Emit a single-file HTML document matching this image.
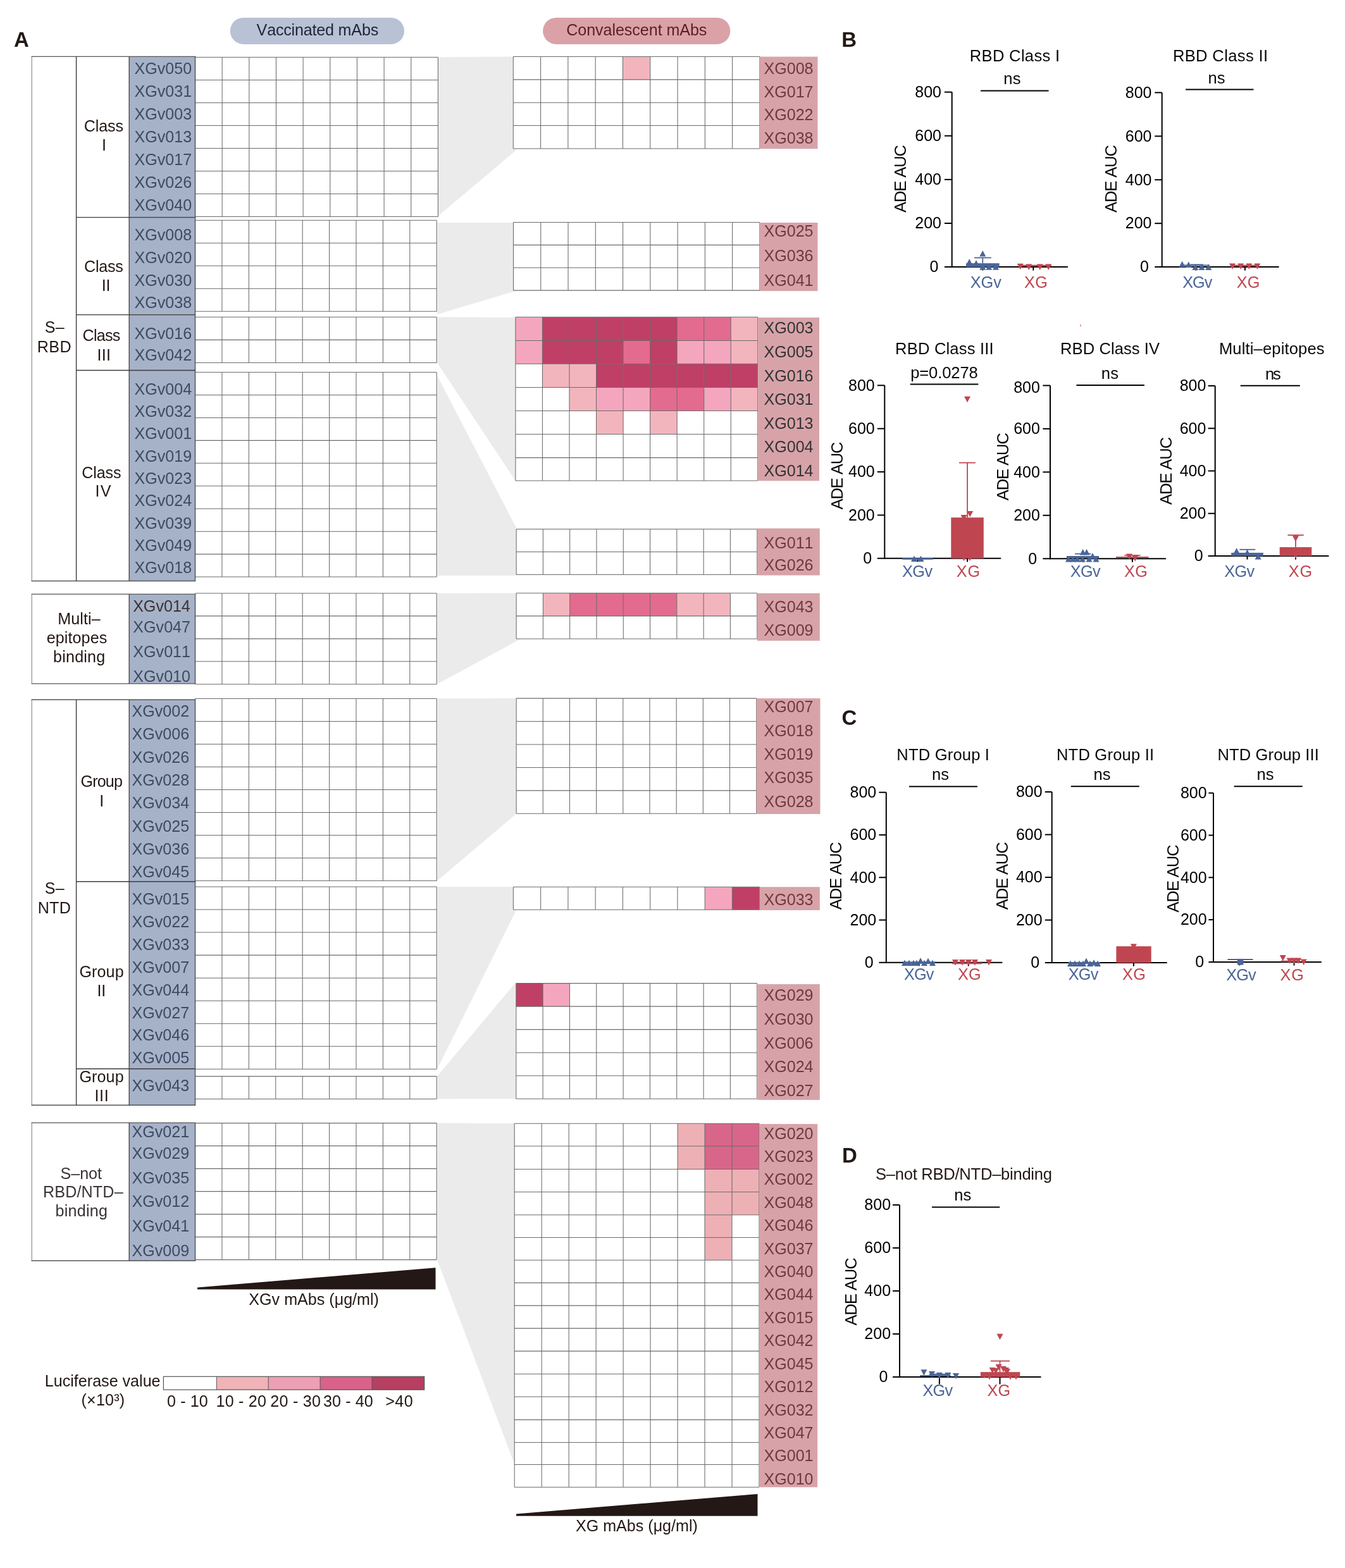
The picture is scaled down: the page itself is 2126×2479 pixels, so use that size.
<!DOCTYPE html>
<html><head><meta charset="utf-8"><title>ADE heatmap figure</title>
<style>
html,body{margin:0;padding:0;background:#fff;}
svg{display:block;}
svg text{font-family:'Liberation Sans', Arial, Helvetica, sans-serif;font-kerning:none;font-variant-ligatures:none;}
</style></head>
<body>
<svg width="2126" height="2479" viewBox="0 0 2126 2479">
<rect x="0" y="0" width="2126" height="2479" fill="#ffffff"/>
<text x="21.98" y="73.9" font-size="33" fill="#231815" font-weight="bold">A</text>
<text x="1330.19" y="73.8" font-size="33" fill="#231815" font-weight="bold">B</text>
<text x="1330.55" y="1146.3" font-size="33" fill="#231815" font-weight="bold">C</text>
<text x="1330.99" y="1838.4" font-size="33" fill="#231815" font-weight="bold">D</text>
<rect x="363.8" y="28" width="275.2" height="41.9" fill="#b8c2d4" rx="20.9"/>
<text x="405.59" y="55.9" font-size="25.1" fill="#1e2536" letter-spacing="-0.19">Vaccinated mAbs</text>
<rect x="858.1" y="28" width="296.2" height="41.9" fill="#daa2a7" rx="20.9"/>
<text x="895.23" y="55.5" font-size="25.1" fill="#5a1f27" letter-spacing="-0.06">Convalescent mAbs</text>
<polygon points="692.6,90.4 811.3,89.5 811.3,235.2 817,236.5 692.6,341.5" fill="#ebebeb"/>
<polygon points="691.3,352.1 811.5,352 811.5,459.1 815,460 691.3,497" fill="#ebebeb"/>
<polygon points="691.3,501.3 814.9,501.6 814.9,760.3 691.3,574" fill="#ebebeb"/>
<polygon points="691.3,594.5 816.2,834.7 816.2,908.5 816.2,909.9 691.3,909.9" fill="#ebebeb"/>
<polygon points="691.3,937.9 816.2,937.7 816.2,1010 822.2,1010.6 691.3,1081.4" fill="#ebebeb"/>
<polygon points="691.3,1104.2 816.2,1104.1 816.2,1286.5 691.3,1392.4" fill="#ebebeb"/>
<polygon points="691.3,1402 811.4,1402 811.4,1438.6 815.7,1439.8 691.3,1689.5" fill="#ebebeb"/>
<polygon points="691.3,1701.2 815.4,1553 815.4,1737.2 691.3,1737.4" fill="#ebebeb"/>
<polygon points="691.3,1775.6 813.2,1776.2 813.2,2314.6 691.3,1992.3" fill="#ebebeb"/>
<rect x="308.5" y="90.4" width="383.9" height="252" fill="#ffffff"/>
<path d="M308.5 90.4V342.4M351.16 90.4V342.4M393.81 90.4V342.4M436.47 90.4V342.4M479.12 90.4V342.4M521.78 90.4V342.4M564.43 90.4V342.4M607.09 90.4V342.4M649.74 90.4V342.4M692.4 90.4V342.4M308.5 90.4H692.4M308.5 126.4H692.4M308.5 162.4H692.4M308.5 198.4H692.4M308.5 234.4H692.4M308.5 270.4H692.4M308.5 306.4H692.4M308.5 342.4H692.4" stroke="#6b6b6b" stroke-width="1.05" fill="none"/>
<rect x="308.5" y="348.2" width="381.7" height="144" fill="#ffffff"/>
<path d="M308.5 348.2V492.2M350.91 348.2V492.2M393.32 348.2V492.2M435.73 348.2V492.2M478.14 348.2V492.2M520.56 348.2V492.2M562.97 348.2V492.2M605.38 348.2V492.2M647.79 348.2V492.2M690.2 348.2V492.2M308.5 348.2H690.2M308.5 384.2H690.2M308.5 420.2H690.2M308.5 456.2H690.2M308.5 492.2H690.2" stroke="#6b6b6b" stroke-width="1.05" fill="none"/>
<rect x="308.5" y="501.3" width="381.7" height="72.1" fill="#ffffff"/>
<path d="M308.5 501.3V573.4M350.91 501.3V573.4M393.32 501.3V573.4M435.73 501.3V573.4M478.14 501.3V573.4M520.56 501.3V573.4M562.97 501.3V573.4M605.38 501.3V573.4M647.79 501.3V573.4M690.2 501.3V573.4M308.5 501.3H690.2M308.5 537.35H690.2M308.5 573.4H690.2" stroke="#6b6b6b" stroke-width="1.05" fill="none"/>
<rect x="308.5" y="588.5" width="381.7" height="323.55" fill="#ffffff"/>
<path d="M308.5 588.5V912.05M350.91 588.5V912.05M393.32 588.5V912.05M435.73 588.5V912.05M478.14 588.5V912.05M520.56 588.5V912.05M562.97 588.5V912.05M605.38 588.5V912.05M647.79 588.5V912.05M690.2 588.5V912.05M308.5 588.5H690.2M308.5 624.45H690.2M308.5 660.4H690.2M308.5 696.35H690.2M308.5 732.3H690.2M308.5 768.25H690.2M308.5 804.2H690.2M308.5 840.15H690.2M308.5 876.1H690.2M308.5 912.05H690.2" stroke="#6b6b6b" stroke-width="1.05" fill="none"/>
<rect x="308.5" y="937.9" width="381.7" height="143.92" fill="#ffffff"/>
<path d="M308.5 937.9V1081.82M350.91 937.9V1081.82M393.32 937.9V1081.82M435.73 937.9V1081.82M478.14 937.9V1081.82M520.56 937.9V1081.82M562.97 937.9V1081.82M605.38 937.9V1081.82M647.79 937.9V1081.82M690.2 937.9V1081.82M308.5 937.9H690.2M308.5 973.88H690.2M308.5 1009.86H690.2M308.5 1045.84H690.2M308.5 1081.82H690.2" stroke="#6b6b6b" stroke-width="1.05" fill="none"/>
<rect x="308.5" y="1104.4" width="381.7" height="288" fill="#ffffff"/>
<path d="M308.5 1104.4V1392.4M350.91 1104.4V1392.4M393.32 1104.4V1392.4M435.73 1104.4V1392.4M478.14 1104.4V1392.4M520.56 1104.4V1392.4M562.97 1104.4V1392.4M605.38 1104.4V1392.4M647.79 1104.4V1392.4M690.2 1104.4V1392.4M308.5 1104.4H690.2M308.5 1140.4H690.2M308.5 1176.4H690.2M308.5 1212.4H690.2M308.5 1248.4H690.2M308.5 1284.4H690.2M308.5 1320.4H690.2M308.5 1356.4H690.2M308.5 1392.4H690.2" stroke="#6b6b6b" stroke-width="1.05" fill="none"/>
<rect x="308.5" y="1402" width="381.7" height="288.32" fill="#ffffff"/>
<path d="M308.5 1402V1690.32M350.91 1402V1690.32M393.32 1402V1690.32M435.73 1402V1690.32M478.14 1402V1690.32M520.56 1402V1690.32M562.97 1402V1690.32M605.38 1402V1690.32M647.79 1402V1690.32M690.2 1402V1690.32M308.5 1402H690.2M308.5 1438.04H690.2M308.5 1474.08H690.2M308.5 1510.12H690.2M308.5 1546.16H690.2M308.5 1582.2H690.2M308.5 1618.24H690.2M308.5 1654.28H690.2M308.5 1690.32H690.2" stroke="#6b6b6b" stroke-width="1.05" fill="none"/>
<rect x="308.5" y="1701.6" width="381.7" height="35.8" fill="#ffffff"/>
<path d="M308.5 1701.6V1737.4M350.91 1701.6V1737.4M393.32 1701.6V1737.4M435.73 1701.6V1737.4M478.14 1701.6V1737.4M520.56 1701.6V1737.4M562.97 1701.6V1737.4M605.38 1701.6V1737.4M647.79 1701.6V1737.4M690.2 1701.6V1737.4M308.5 1701.6H690.2M308.5 1737.4H690.2" stroke="#6b6b6b" stroke-width="1.05" fill="none"/>
<rect x="308.5" y="1775.6" width="381.7" height="216" fill="#ffffff"/>
<path d="M308.5 1775.6V1991.6M350.91 1775.6V1991.6M393.32 1775.6V1991.6M435.73 1775.6V1991.6M478.14 1775.6V1991.6M520.56 1775.6V1991.6M562.97 1775.6V1991.6M605.38 1775.6V1991.6M647.79 1775.6V1991.6M690.2 1775.6V1991.6M308.5 1775.6H690.2M308.5 1811.6H690.2M308.5 1847.6H690.2M308.5 1883.6H690.2M308.5 1919.6H690.2M308.5 1955.6H690.2M308.5 1991.6H690.2" stroke="#6b6b6b" stroke-width="1.05" fill="none"/>
<rect x="811.3" y="89.5" width="389.6" height="145.4" fill="#ffffff"/>
<rect x="984.46" y="89.5" width="43.29" height="36.35" fill="#f3b5bd"/>
<path d="M811.3 89.5V234.9M854.59 89.5V234.9M897.88 89.5V234.9M941.17 89.5V234.9M984.46 89.5V234.9M1027.74 89.5V234.9M1071.03 89.5V234.9M1114.32 89.5V234.9M1157.61 89.5V234.9M1200.9 89.5V234.9M811.3 89.5H1200.9M811.3 125.85H1200.9M811.3 162.2H1200.9M811.3 198.55H1200.9M811.3 234.9H1200.9" stroke="#6b6b6b" stroke-width="1.05" fill="none"/>
<rect x="811.5" y="351.5" width="389.4" height="107.61" fill="#ffffff"/>
<path d="M811.5 351.5V459.11M854.77 351.5V459.11M898.03 351.5V459.11M941.3 351.5V459.11M984.57 351.5V459.11M1027.83 351.5V459.11M1071.1 351.5V459.11M1114.37 351.5V459.11M1157.63 351.5V459.11M1200.9 351.5V459.11M811.5 351.5H1200.9M811.5 387.37H1200.9M811.5 423.24H1200.9M811.5 459.11H1200.9" stroke="#6b6b6b" stroke-width="1.05" fill="none"/>
<rect x="814.9" y="501.3" width="382.9" height="258.7" fill="#ffffff"/>
<rect x="814.9" y="501.3" width="42.54" height="37.1" fill="#f5a6bf"/>
<rect x="857.44" y="501.3" width="42.54" height="37.1" fill="#c03f66"/>
<rect x="899.99" y="501.3" width="42.54" height="37.1" fill="#c03f66"/>
<rect x="942.53" y="501.3" width="42.54" height="37.1" fill="#c03f66"/>
<rect x="985.08" y="501.3" width="42.54" height="37.1" fill="#c03f66"/>
<rect x="1027.62" y="501.3" width="42.54" height="37.1" fill="#c03f66"/>
<rect x="1070.17" y="501.3" width="42.54" height="37.1" fill="#e36b8f"/>
<rect x="1112.71" y="501.3" width="42.54" height="37.1" fill="#e36b8f"/>
<rect x="1155.26" y="501.3" width="42.54" height="37.1" fill="#f3b5bd"/>
<rect x="814.9" y="538.4" width="42.54" height="36.8" fill="#f5a6bf"/>
<rect x="857.44" y="538.4" width="42.54" height="36.8" fill="#c03f66"/>
<rect x="899.99" y="538.4" width="42.54" height="36.8" fill="#c03f66"/>
<rect x="942.53" y="538.4" width="42.54" height="36.8" fill="#c03f66"/>
<rect x="985.08" y="538.4" width="42.54" height="36.8" fill="#e36b8f"/>
<rect x="1027.62" y="538.4" width="42.54" height="36.8" fill="#c03f66"/>
<rect x="1070.17" y="538.4" width="42.54" height="36.8" fill="#f5a6bf"/>
<rect x="1112.71" y="538.4" width="42.54" height="36.8" fill="#f5a6bf"/>
<rect x="1155.26" y="538.4" width="42.54" height="36.8" fill="#f3b5bd"/>
<rect x="857.44" y="575.2" width="42.54" height="37.3" fill="#f3b5bd"/>
<rect x="899.99" y="575.2" width="42.54" height="37.3" fill="#f3b5bd"/>
<rect x="942.53" y="575.2" width="42.54" height="37.3" fill="#c03f66"/>
<rect x="985.08" y="575.2" width="42.54" height="37.3" fill="#c03f66"/>
<rect x="1027.62" y="575.2" width="42.54" height="37.3" fill="#c03f66"/>
<rect x="1070.17" y="575.2" width="42.54" height="37.3" fill="#c03f66"/>
<rect x="1112.71" y="575.2" width="42.54" height="37.3" fill="#c03f66"/>
<rect x="1155.26" y="575.2" width="42.54" height="37.3" fill="#c03f66"/>
<rect x="899.99" y="612.5" width="42.54" height="36.9" fill="#f3b5bd"/>
<rect x="942.53" y="612.5" width="42.54" height="36.9" fill="#f5a6bf"/>
<rect x="985.08" y="612.5" width="42.54" height="36.9" fill="#f5a6bf"/>
<rect x="1027.62" y="612.5" width="42.54" height="36.9" fill="#e36b8f"/>
<rect x="1070.17" y="612.5" width="42.54" height="36.9" fill="#e36b8f"/>
<rect x="1112.71" y="612.5" width="42.54" height="36.9" fill="#f5a6bf"/>
<rect x="1155.26" y="612.5" width="42.54" height="36.9" fill="#f3b5bd"/>
<rect x="942.53" y="649.4" width="42.54" height="37.1" fill="#f3b5bd"/>
<rect x="1027.62" y="649.4" width="42.54" height="37.1" fill="#f3b5bd"/>
<path d="M814.9 501.3V760M857.44 501.3V760M899.99 501.3V760M942.53 501.3V760M985.08 501.3V760M1027.62 501.3V760M1070.17 501.3V760M1112.71 501.3V760M1155.26 501.3V760M1197.8 501.3V760M814.9 501.3H1197.8M814.9 538.4H1197.8M814.9 575.2H1197.8M814.9 612.5H1197.8M814.9 649.4H1197.8M814.9 686.5H1197.8M814.9 723.6H1197.8M814.9 760H1197.8" stroke="#6b6b6b" stroke-width="1.05" fill="none"/>
<rect x="816.1" y="836.5" width="380.6" height="72" fill="#ffffff"/>
<path d="M816.1 836.5V908.5M858.39 836.5V908.5M900.68 836.5V908.5M942.97 836.5V908.5M985.26 836.5V908.5M1027.54 836.5V908.5M1069.83 836.5V908.5M1112.12 836.5V908.5M1154.41 836.5V908.5M1196.7 836.5V908.5M816.1 836.5H1196.7M816.1 872.5H1196.7M816.1 908.5H1196.7" stroke="#6b6b6b" stroke-width="1.05" fill="none"/>
<rect x="816.1" y="937.7" width="380.6" height="72.3" fill="#ffffff"/>
<rect x="858.39" y="937.7" width="42.29" height="36.15" fill="#f3b5bd"/>
<rect x="900.68" y="937.7" width="42.29" height="36.15" fill="#e36b8f"/>
<rect x="942.97" y="937.7" width="42.29" height="36.15" fill="#e36b8f"/>
<rect x="985.26" y="937.7" width="42.29" height="36.15" fill="#e36b8f"/>
<rect x="1027.54" y="937.7" width="42.29" height="36.15" fill="#e36b8f"/>
<rect x="1069.83" y="937.7" width="42.29" height="36.15" fill="#f3b5bd"/>
<rect x="1112.12" y="937.7" width="42.29" height="36.15" fill="#f3b5bd"/>
<path d="M816.1 937.7V1010M858.39 937.7V1010M900.68 937.7V1010M942.97 937.7V1010M985.26 937.7V1010M1027.54 937.7V1010M1069.83 937.7V1010M1112.12 937.7V1010M1154.41 937.7V1010M1196.7 937.7V1010M816.1 937.7H1196.7M816.1 973.85H1196.7M816.1 1010H1196.7" stroke="#6b6b6b" stroke-width="1.05" fill="none"/>
<rect x="816.1" y="1104.1" width="379.6" height="182.2" fill="#ffffff"/>
<path d="M816.1 1104.1V1286.3M858.28 1104.1V1286.3M900.46 1104.1V1286.3M942.63 1104.1V1286.3M984.81 1104.1V1286.3M1026.99 1104.1V1286.3M1069.17 1104.1V1286.3M1111.34 1104.1V1286.3M1153.52 1104.1V1286.3M1195.7 1104.1V1286.3M816.1 1104.1H1195.7M816.1 1140.54H1195.7M816.1 1176.98H1195.7M816.1 1213.42H1195.7M816.1 1249.86H1195.7M816.1 1286.3H1195.7" stroke="#6b6b6b" stroke-width="1.05" fill="none"/>
<rect x="811.4" y="1402.3" width="389.3" height="36" fill="#ffffff"/>
<rect x="1114.19" y="1402.3" width="43.26" height="36" fill="#f5a6bf"/>
<rect x="1157.44" y="1402.3" width="43.26" height="36" fill="#c03f66"/>
<path d="M811.4 1402.3V1438.3M854.66 1402.3V1438.3M897.91 1402.3V1438.3M941.17 1402.3V1438.3M984.42 1402.3V1438.3M1027.68 1402.3V1438.3M1070.93 1402.3V1438.3M1114.19 1402.3V1438.3M1157.44 1402.3V1438.3M1200.7 1402.3V1438.3M811.4 1402.3H1200.7M811.4 1438.3H1200.7" stroke="#6b6b6b" stroke-width="1.05" fill="none"/>
<rect x="815.8" y="1554.6" width="380.9" height="182.6" fill="#ffffff"/>
<rect x="815.8" y="1554.6" width="42.32" height="36.52" fill="#c03f66"/>
<rect x="858.12" y="1554.6" width="42.32" height="36.52" fill="#f5a6bf"/>
<path d="M815.8 1554.6V1737.2M858.12 1554.6V1737.2M900.44 1554.6V1737.2M942.77 1554.6V1737.2M985.09 1554.6V1737.2M1027.41 1554.6V1737.2M1069.73 1554.6V1737.2M1112.06 1554.6V1737.2M1154.38 1554.6V1737.2M1196.7 1554.6V1737.2M815.8 1554.6H1196.7M815.8 1591.12H1196.7M815.8 1627.64H1196.7M815.8 1664.16H1196.7M815.8 1700.68H1196.7M815.8 1737.2H1196.7" stroke="#6b6b6b" stroke-width="1.05" fill="none"/>
<rect x="813.2" y="1776.3" width="386.8" height="575" fill="#ffffff"/>
<rect x="1071.07" y="1776.3" width="42.98" height="35.7" fill="#edb0b5"/>
<rect x="1114.04" y="1776.3" width="42.98" height="35.7" fill="#d8668a"/>
<rect x="1157.02" y="1776.3" width="42.98" height="35.7" fill="#d8668a"/>
<rect x="1071.07" y="1812" width="42.98" height="36.4" fill="#edb0b5"/>
<rect x="1114.04" y="1812" width="42.98" height="36.4" fill="#d8668a"/>
<rect x="1157.02" y="1812" width="42.98" height="36.4" fill="#d8668a"/>
<rect x="1114.04" y="1848.4" width="42.98" height="36.1" fill="#edb0b5"/>
<rect x="1157.02" y="1848.4" width="42.98" height="36.1" fill="#edb0b5"/>
<rect x="1114.04" y="1884.5" width="42.98" height="36.2" fill="#edb0b5"/>
<rect x="1157.02" y="1884.5" width="42.98" height="36.2" fill="#edb0b5"/>
<rect x="1114.04" y="1920.7" width="42.98" height="35.8" fill="#edb0b5"/>
<rect x="1114.04" y="1956.5" width="42.98" height="35.7" fill="#edb0b5"/>
<path d="M813.2 1776.3V2351.3M856.18 1776.3V2351.3M899.16 1776.3V2351.3M942.13 1776.3V2351.3M985.11 1776.3V2351.3M1028.09 1776.3V2351.3M1071.07 1776.3V2351.3M1114.04 1776.3V2351.3M1157.02 1776.3V2351.3M1200 1776.3V2351.3M813.2 1776.3H1200M813.2 1812H1200M813.2 1848.4H1200M813.2 1884.5H1200M813.2 1920.7H1200M813.2 1956.5H1200M813.2 1992.2H1200M813.2 2028.1H1200M813.2 2064.1H1200M813.2 2100.1H1200M813.2 2136.1H1200M813.2 2172.2H1200M813.2 2208.3H1200M813.2 2244.6H1200M813.2 2280.5H1200M813.2 2315.5H1200M813.2 2351.3H1200" stroke="#6b6b6b" stroke-width="1.05" fill="none"/>
<rect x="1200.9" y="89.6" width="91.6" height="145.7" fill="#d7a3a8"/>
<text x="1207.44" y="117.3" font-size="25.1" fill="#6e3a3f">XG008</text>
<text x="1207.44" y="153.9" font-size="25.1" fill="#6e3a3f">XG017</text>
<text x="1207.44" y="190.3" font-size="25.1" fill="#6e3a3f">XG022</text>
<text x="1207.44" y="227.2" font-size="25.1" fill="#6e3a3f">XG038</text>
<rect x="1201.2" y="352" width="91.3" height="108.1" fill="#d7a3a8"/>
<text x="1207.44" y="374.4" font-size="25.1" fill="#6e3a3f">XG025</text>
<text x="1207.44" y="413" font-size="25.1" fill="#6e3a3f">XG036</text>
<text x="1207.44" y="452" font-size="25.1" fill="#6e3a3f">XG041</text>
<rect x="1198.3" y="502" width="96.7" height="258.2" fill="#d7a3a8"/>
<text x="1207.44" y="527.3" font-size="25.1" fill="#333333">XG003</text>
<text x="1207.44" y="565.2" font-size="25.1" fill="#333333">XG005</text>
<text x="1207.44" y="602.9" font-size="25.1" fill="#333333">XG016</text>
<text x="1207.44" y="640.1" font-size="25.1" fill="#333333">XG031</text>
<text x="1207.44" y="678.1" font-size="25.1" fill="#333333">XG013</text>
<text x="1207.44" y="715.3" font-size="25.1" fill="#333333">XG004</text>
<text x="1207.44" y="753" font-size="25.1" fill="#333333">XG014</text>
<rect x="1196.7" y="835.4" width="99.1" height="74.2" fill="#d7a3a8"/>
<text x="1207.44" y="866.9" font-size="25.1" fill="#6e3a3f">XG011</text>
<text x="1207.44" y="902" font-size="25.1" fill="#6e3a3f">XG026</text>
<rect x="1196.7" y="938" width="99.1" height="75" fill="#d7a3a8"/>
<text x="1207.44" y="968.2" font-size="25.1" fill="#6e3a3f">XG043</text>
<text x="1207.44" y="1004.5" font-size="25.1" fill="#6e3a3f">XG009</text>
<rect x="1195.7" y="1104.1" width="100.8" height="182.9" fill="#d7a3a8"/>
<text x="1207.44" y="1125.7" font-size="25.1" fill="#6e3a3f">XG007</text>
<text x="1207.44" y="1163.5" font-size="25.1" fill="#6e3a3f">XG018</text>
<text x="1207.44" y="1200.6" font-size="25.1" fill="#6e3a3f">XG019</text>
<text x="1207.44" y="1238.4" font-size="25.1" fill="#6e3a3f">XG035</text>
<text x="1207.44" y="1276.3" font-size="25.1" fill="#6e3a3f">XG028</text>
<rect x="1200.7" y="1402.3" width="95.1" height="36.7" fill="#d7a3a8"/>
<text x="1207.44" y="1431.1" font-size="25.1" fill="#6e3a3f">XG033</text>
<rect x="1197.5" y="1556" width="98.3" height="183" fill="#d7a3a8"/>
<text x="1207.44" y="1582.3" font-size="25.1" fill="#6e3a3f">XG029</text>
<text x="1207.44" y="1620.1" font-size="25.1" fill="#6e3a3f">XG030</text>
<text x="1207.44" y="1658" font-size="25.1" fill="#6e3a3f">XG006</text>
<text x="1207.44" y="1695" font-size="25.1" fill="#6e3a3f">XG024</text>
<text x="1207.44" y="1732.9" font-size="25.1" fill="#6e3a3f">XG027</text>
<rect x="1201" y="1777" width="91.2" height="574.3" fill="#d7a3a8"/>
<text x="1207.44" y="1800.5" font-size="25.1" fill="#6e3a3f">XG020</text>
<text x="1207.44" y="1836.92" font-size="25.1" fill="#6e3a3f">XG023</text>
<text x="1207.44" y="1873.34" font-size="25.1" fill="#6e3a3f">XG002</text>
<text x="1207.44" y="1909.76" font-size="25.1" fill="#6e3a3f">XG048</text>
<text x="1207.44" y="1946.18" font-size="25.1" fill="#6e3a3f">XG046</text>
<text x="1207.44" y="1982.6" font-size="25.1" fill="#6e3a3f">XG037</text>
<text x="1207.44" y="2019.02" font-size="25.1" fill="#6e3a3f">XG040</text>
<text x="1207.44" y="2055.44" font-size="25.1" fill="#6e3a3f">XG044</text>
<text x="1207.44" y="2091.86" font-size="25.1" fill="#6e3a3f">XG015</text>
<text x="1207.44" y="2128.28" font-size="25.1" fill="#6e3a3f">XG042</text>
<text x="1207.44" y="2164.7" font-size="25.1" fill="#6e3a3f">XG045</text>
<text x="1207.44" y="2201.12" font-size="25.1" fill="#6e3a3f">XG012</text>
<text x="1207.44" y="2237.54" font-size="25.1" fill="#6e3a3f">XG032</text>
<text x="1207.44" y="2273.96" font-size="25.1" fill="#6e3a3f">XG047</text>
<text x="1207.44" y="2310.38" font-size="25.1" fill="#6e3a3f">XG001</text>
<text x="1207.44" y="2346.8" font-size="25.1" fill="#6e3a3f">XG010</text>
<rect x="204.2" y="89.4" width="104.3" height="829.1" fill="#a6b2c8"/>
<line x1="50.3" y1="89.4" x2="50.3" y2="918.5" stroke="#9f9f9f" stroke-width="1.4"/>
<line x1="49.6" y1="89.4" x2="309.2" y2="89.4" stroke="#555555" stroke-width="1.4"/>
<line x1="49.6" y1="918.5" x2="309.2" y2="918.5" stroke="#555555" stroke-width="1.4"/>
<line x1="308.5" y1="89.4" x2="308.5" y2="918.5" stroke="#4a4a4a" stroke-width="1.3"/>
<line x1="120.6" y1="89.4" x2="120.6" y2="918.5" stroke="#3e3a39" stroke-width="1.4"/>
<line x1="204.2" y1="89.4" x2="204.2" y2="918.5" stroke="#3e3a39" stroke-width="1.3"/>
<line x1="120.6" y1="343.6" x2="308.5" y2="343.6" stroke="#3e3a39" stroke-width="1.4"/>
<line x1="120.6" y1="497.6" x2="308.5" y2="497.6" stroke="#3e3a39" stroke-width="1.4"/>
<line x1="120.6" y1="585.5" x2="308.5" y2="585.5" stroke="#3e3a39" stroke-width="1.4"/>
<rect x="204.2" y="939.4" width="104.3" height="141.5" fill="#a6b2c8"/>
<line x1="50.3" y1="939.4" x2="50.3" y2="1080.9" stroke="#9f9f9f" stroke-width="1.4"/>
<line x1="49.6" y1="939.4" x2="309.2" y2="939.4" stroke="#555555" stroke-width="1.4"/>
<line x1="49.6" y1="1080.9" x2="309.2" y2="1080.9" stroke="#555555" stroke-width="1.4"/>
<line x1="308.5" y1="939.4" x2="308.5" y2="1080.9" stroke="#4a4a4a" stroke-width="1.3"/>
<line x1="204.2" y1="939.4" x2="204.2" y2="1080.9" stroke="#3e3a39" stroke-width="1.3"/>
<rect x="204.2" y="1106.2" width="104.3" height="641" fill="#a6b2c8"/>
<line x1="50.3" y1="1106.2" x2="50.3" y2="1747.2" stroke="#9f9f9f" stroke-width="1.4"/>
<line x1="49.6" y1="1106.2" x2="309.2" y2="1106.2" stroke="#555555" stroke-width="1.4"/>
<line x1="49.6" y1="1747.2" x2="309.2" y2="1747.2" stroke="#555555" stroke-width="1.4"/>
<line x1="308.5" y1="1106.2" x2="308.5" y2="1747.2" stroke="#4a4a4a" stroke-width="1.3"/>
<line x1="120.6" y1="1106.2" x2="120.6" y2="1747.2" stroke="#3e3a39" stroke-width="1.4"/>
<line x1="204.2" y1="1106.2" x2="204.2" y2="1747.2" stroke="#3e3a39" stroke-width="1.3"/>
<line x1="120.6" y1="1393.7" x2="308.5" y2="1393.7" stroke="#3e3a39" stroke-width="1.4"/>
<line x1="120.6" y1="1689.8" x2="308.5" y2="1689.8" stroke="#3e3a39" stroke-width="1.4"/>
<rect x="204.2" y="1775.1" width="104.3" height="218.1" fill="#a6b2c8"/>
<line x1="50.3" y1="1775.1" x2="50.3" y2="1993.2" stroke="#9f9f9f" stroke-width="1.4"/>
<line x1="49.6" y1="1775.1" x2="309.2" y2="1775.1" stroke="#555555" stroke-width="1.4"/>
<line x1="49.6" y1="1993.2" x2="309.2" y2="1993.2" stroke="#555555" stroke-width="1.4"/>
<line x1="308.5" y1="1775.1" x2="308.5" y2="1993.2" stroke="#4a4a4a" stroke-width="1.3"/>
<line x1="204.2" y1="1775.1" x2="204.2" y2="1993.2" stroke="#3e3a39" stroke-width="1.3"/>
<text x="212.54" y="117.4" font-size="25.1" fill="#3e4b63">XGv050</text>
<text x="212.54" y="153.4" font-size="25.1" fill="#3e4b63">XGv031</text>
<text x="212.54" y="189.4" font-size="25.1" fill="#3e4b63">XGv003</text>
<text x="212.54" y="225.3" font-size="25.1" fill="#3e4b63">XGv013</text>
<text x="212.54" y="261.2" font-size="25.1" fill="#3e4b63">XGv017</text>
<text x="212.54" y="297.3" font-size="25.1" fill="#3e4b63">XGv026</text>
<text x="212.54" y="333.2" font-size="25.1" fill="#3e4b63">XGv040</text>
<text x="212.54" y="379.9" font-size="25.1" fill="#3e4b63">XGv008</text>
<text x="212.54" y="416" font-size="25.1" fill="#3e4b63">XGv020</text>
<text x="212.54" y="451.5" font-size="25.1" fill="#3e4b63">XGv030</text>
<text x="212.54" y="487.1" font-size="25.1" fill="#3e4b63">XGv038</text>
<text x="212.54" y="536" font-size="25.1" fill="#3e4b63">XGv016</text>
<text x="212.54" y="570.4" font-size="25.1" fill="#3e4b63">XGv042</text>
<text x="212.54" y="623.5" font-size="25.1" fill="#3e4b63">XGv004</text>
<text x="212.54" y="658.87" font-size="25.1" fill="#3e4b63">XGv032</text>
<text x="212.54" y="694.24" font-size="25.1" fill="#3e4b63">XGv001</text>
<text x="212.54" y="729.61" font-size="25.1" fill="#3e4b63">XGv019</text>
<text x="212.54" y="764.98" font-size="25.1" fill="#3e4b63">XGv023</text>
<text x="212.54" y="800.35" font-size="25.1" fill="#3e4b63">XGv024</text>
<text x="212.54" y="835.72" font-size="25.1" fill="#3e4b63">XGv039</text>
<text x="212.54" y="871.09" font-size="25.1" fill="#3e4b63">XGv049</text>
<text x="212.54" y="906.46" font-size="25.1" fill="#3e4b63">XGv018</text>
<text x="210.34" y="1000.4" font-size="25.1" fill="#3e4b63">XGv047</text>
<text x="210.34" y="1038.7" font-size="25.1" fill="#3e4b63">XGv011</text>
<text x="210.34" y="1077.5" font-size="25.1" fill="#3e4b63">XGv010</text>
<text x="208.44" y="1132.9" font-size="25.1" fill="#3e4b63">XGv002</text>
<text x="208.44" y="1169.27" font-size="25.1" fill="#3e4b63">XGv006</text>
<text x="208.44" y="1205.64" font-size="25.1" fill="#3e4b63">XGv026</text>
<text x="208.44" y="1242.01" font-size="25.1" fill="#3e4b63">XGv028</text>
<text x="208.44" y="1278.38" font-size="25.1" fill="#3e4b63">XGv034</text>
<text x="208.44" y="1314.75" font-size="25.1" fill="#3e4b63">XGv025</text>
<text x="208.44" y="1351.12" font-size="25.1" fill="#3e4b63">XGv036</text>
<text x="208.44" y="1387.49" font-size="25.1" fill="#3e4b63">XGv045</text>
<text x="208.44" y="1429.8" font-size="25.1" fill="#3e4b63">XGv015</text>
<text x="208.44" y="1465.74" font-size="25.1" fill="#3e4b63">XGv022</text>
<text x="208.44" y="1501.68" font-size="25.1" fill="#3e4b63">XGv033</text>
<text x="208.44" y="1537.62" font-size="25.1" fill="#3e4b63">XGv007</text>
<text x="208.44" y="1573.56" font-size="25.1" fill="#3e4b63">XGv044</text>
<text x="208.44" y="1609.5" font-size="25.1" fill="#3e4b63">XGv027</text>
<text x="208.44" y="1645.44" font-size="25.1" fill="#3e4b63">XGv046</text>
<text x="208.44" y="1681.38" font-size="25.1" fill="#3e4b63">XGv005</text>
<text x="208.44" y="1725.3" font-size="25.1" fill="#3e4b63">XGv043</text>
<text x="208.44" y="1797.9" font-size="25.1" fill="#3e4b63">XGv021</text>
<text x="208.44" y="1832.1" font-size="25.1" fill="#3e4b63">XGv029</text>
<text x="208.44" y="1870.5" font-size="25.1" fill="#3e4b63">XGv035</text>
<text x="208.44" y="1908.4" font-size="25.1" fill="#3e4b63">XGv012</text>
<text x="208.44" y="1947" font-size="25.1" fill="#3e4b63">XGv041</text>
<text x="208.44" y="1985.7" font-size="25.1" fill="#3e4b63">XGv009</text>
<text x="210.14" y="967.3" font-size="25.1" fill="#3b3333">XGv014</text>
<text x="70.76" y="526.4" font-size="25.1" fill="#231815" letter-spacing="0.35">S–</text>
<text x="58.84" y="556.8" font-size="25.1" fill="#231815" letter-spacing="0.38">RBD</text>
<text x="132.63" y="207.6" font-size="25.1" fill="#231815" letter-spacing="-0.07">Class</text>
<text x="160.91" y="237.5" font-size="25.1" fill="#231815">I</text>
<text x="133.03" y="430" font-size="25.1" fill="#231815" letter-spacing="-0.22">Class</text>
<text x="160.68" y="460" font-size="25.1" fill="#231815" letter-spacing="-0.11">II</text>
<text x="130.53" y="539.4" font-size="25.1" fill="#231815" letter-spacing="-0.72">Class</text>
<text x="153.48" y="569.5" font-size="25.1" fill="#231815" letter-spacing="0.31">III</text>
<text x="129.23" y="755.5" font-size="25.1" fill="#231815" letter-spacing="-0.1">Class</text>
<text x="150.48" y="785.2" font-size="25.1" fill="#231815" letter-spacing="1.21">IV</text>
<text x="91.24" y="987.2" font-size="25.1" fill="#231815" letter-spacing="0.12">Multi–</text>
<text x="73.63" y="1017.1" font-size="25.1" fill="#231815" letter-spacing="0.11">epitopes</text>
<text x="84.08" y="1047.1" font-size="25.1" fill="#231815" letter-spacing="0.2">binding</text>
<text x="70.76" y="1413.3" font-size="25.1" fill="#231815" letter-spacing="0.35">S–</text>
<text x="59.64" y="1443.7" font-size="25.1" fill="#231815" letter-spacing="0.34">NTD</text>
<text x="127.54" y="1244.4" font-size="25.1" fill="#231815" letter-spacing="-0.84">Group</text>
<text x="157.31" y="1274.7" font-size="25.1" fill="#231815">I</text>
<text x="125.44" y="1544.6" font-size="25.1" fill="#231815" letter-spacing="0.11">Group</text>
<text x="153.48" y="1575" font-size="25.1" fill="#231815" letter-spacing="-0.11">II</text>
<text x="125.44" y="1710.9" font-size="25.1" fill="#231815" letter-spacing="0.11">Group</text>
<text x="149.58" y="1741" font-size="25.1" fill="#231815" letter-spacing="0.56">III</text>
<text x="95.56" y="1863.7" font-size="25.1" fill="#3a3434" letter-spacing="-0.04">S–not</text>
<text x="67.94" y="1893.2" font-size="25.1" fill="#3a3434" letter-spacing="0.17">RBD/NTD–</text>
<text x="87.48" y="1922.8" font-size="25.1" fill="#3a3434" letter-spacing="0.26">binding</text>
<polygon points="312,2035.5 688.5,2004.2 688.5,2038.5 312,2038.5" fill="#231815"/>
<text x="393.34" y="2063.3" font-size="25.1" fill="#231815" letter-spacing="0.01">XGv mAbs (μg/ml)</text>
<polygon points="816,2393.6 1197.5,2362 1197.5,2396.7 816,2396.7" fill="#231815"/>
<text x="909.94" y="2420.8" font-size="25.1" fill="#231815">XG mAbs (μg/ml)</text>
<text x="70.84" y="2192" font-size="25.1" fill="#231815">Luciferase value</text>
<text x="128.44" y="2221.6" font-size="25.1" fill="#231815" letter-spacing="0.23">(×10³)</text>
<rect x="258.4" y="2176.3" width="83.9" height="20.9" fill="#ffffff"/>
<rect x="342.3" y="2176.3" width="81.9" height="20.9" fill="#efb3b8"/>
<rect x="424.2" y="2176.3" width="81.9" height="20.9" fill="#ed9fb5"/>
<rect x="506.1" y="2176.3" width="81.9" height="20.9" fill="#d9628a"/>
<rect x="588" y="2176.3" width="82.7" height="20.9" fill="#b63f62"/>
<rect x="258.4" y="2176.3" width="412.3" height="20.9" fill="none" stroke="#555555" stroke-width="1.2"/>
<line x1="342.3" y1="2176.3" x2="342.3" y2="2197.2" stroke="#555555" stroke-width="1"/>
<line x1="424.2" y1="2176.3" x2="424.2" y2="2197.2" stroke="#555555" stroke-width="1"/>
<line x1="506.1" y1="2176.3" x2="506.1" y2="2197.2" stroke="#555555" stroke-width="1"/>
<line x1="588" y1="2176.3" x2="588" y2="2197.2" stroke="#555555" stroke-width="1"/>
<text x="264.02" y="2223.6" font-size="25.1" fill="#231815" letter-spacing="0.1">0 - 10</text>
<text x="341.49" y="2223.6" font-size="25.1" fill="#231815" letter-spacing="0.21">10 - 20</text>
<text x="427.24" y="2223.6" font-size="25.1" fill="#231815" letter-spacing="0.27">20 - 30</text>
<text x="511.04" y="2223.6" font-size="25.1" fill="#231815" letter-spacing="0.1">30 - 40</text>
<text x="609.26" y="2223.6" font-size="25.1" fill="#231815" letter-spacing="0.47">&gt;40</text>
<rect x="1707.1" y="513" width="1.8" height="3" fill="#ec8f90"/>
<rect x="1717" y="2007.1" width="1" height="1" fill="#e2e2e2"/>
<text x="1532.8" y="96.8" font-size="25.6" fill="#0a0a0a" letter-spacing="0.29">RBD Class I</text>
<text x="1586.2" y="132.7" font-size="25.6" fill="#0a0a0a" letter-spacing="0.29">ns</text>
<line x1="1550" y1="143.5" x2="1657.6" y2="143.5" stroke="#000000" stroke-width="2"/>
<text x="-0.05" y="0" font-size="25.6" fill="#0a0a0a" letter-spacing="-1.11" transform="translate(1432.1 336) rotate(-90)">ADE AUC</text>
<line x1="1504.7" y1="145.6" x2="1504.7" y2="423.1" stroke="#000000" stroke-width="2"/>
<line x1="1492.9" y1="422.1" x2="1687.9" y2="422.1" stroke="#000000" stroke-width="2"/>
<text x="1469.47" y="430.4" font-size="25" fill="#000000">0</text>
<line x1="1492.9" y1="352.98" x2="1504.7" y2="352.98" stroke="#000000" stroke-width="2"/>
<text x="1446.27" y="361.28" font-size="25" fill="#000000">200</text>
<line x1="1492.9" y1="283.85" x2="1504.7" y2="283.85" stroke="#000000" stroke-width="2"/>
<text x="1446.27" y="292.15" font-size="25" fill="#000000">400</text>
<line x1="1492.9" y1="214.73" x2="1504.7" y2="214.73" stroke="#000000" stroke-width="2"/>
<text x="1446.27" y="223.03" font-size="25" fill="#000000">600</text>
<line x1="1492.9" y1="145.6" x2="1504.7" y2="145.6" stroke="#000000" stroke-width="2"/>
<text x="1446.27" y="153.9" font-size="25" fill="#000000">800</text>
<line x1="1553.3" y1="422.1" x2="1553.3" y2="427.6" stroke="#000000" stroke-width="2"/>
<line x1="1633.3" y1="422.1" x2="1633.3" y2="427.6" stroke="#000000" stroke-width="2"/>
<text x="1533.63" y="455" font-size="25.3" fill="#4a6598" letter-spacing="-0.02">XGv</text>
<text x="1618.93" y="455" font-size="25.3" fill="#bf4650" letter-spacing="0.5">XG</text>
<rect x="1527" y="416.2" width="52.6" height="5.9" fill="#4a6598"/>
<line x1="1553.3" y1="416.2" x2="1553.3" y2="407.5" stroke="#4a6598" stroke-width="1.8"/>
<line x1="1540" y1="407.5" x2="1566.8" y2="407.5" stroke="#4a6598" stroke-width="1.8"/>
<polygon points="1553.3,396 1558.3,405.5 1548.3,405.5" fill="#4a6598"/>
<polygon points="1532.2,409.3 1537.2,418.8 1527.2,418.8" fill="#4a6598"/>
<polygon points="1543,411.3 1548,420.8 1538,420.8" fill="#4a6598"/>
<polygon points="1553.3,417.3 1558.3,426.8 1548.3,426.8" fill="#4a6598"/>
<polygon points="1563.2,417.3 1568.2,426.8 1558.2,426.8" fill="#4a6598"/>
<polygon points="1574,417.3 1579,426.8 1569,426.8" fill="#4a6598"/>
<line x1="1610" y1="420" x2="1662" y2="420" stroke="#bf4650" stroke-width="2.5"/>
<polygon points="1607.8,416.7 1617.8,416.7 1612.8,426.2" fill="#bf4650"/>
<polygon points="1621.3,417.5 1631.3,417.5 1626.3,427" fill="#bf4650"/>
<polygon points="1638.8,417.5 1648.8,417.5 1643.8,427" fill="#bf4650"/>
<polygon points="1652.3,417.5 1662.3,417.5 1657.3,427" fill="#bf4650"/>
<text x="1853.9" y="96.9" font-size="25.6" fill="#0a0a0a" letter-spacing="0.33">RBD Class II</text>
<text x="1909.5" y="131.7" font-size="25.6" fill="#0a0a0a" letter-spacing="0.09">ns</text>
<line x1="1874" y1="141.6" x2="1981.5" y2="141.6" stroke="#000000" stroke-width="2"/>
<text x="-0.05" y="0" font-size="25.6" fill="#0a0a0a" letter-spacing="-1.11" transform="translate(1765.3 336) rotate(-90)">ADE AUC</text>
<line x1="1836.7" y1="146.4" x2="1836.7" y2="423.1" stroke="#000000" stroke-width="2"/>
<line x1="1825.3" y1="422.1" x2="2021.6" y2="422.1" stroke="#000000" stroke-width="2"/>
<text x="1801.97" y="430.4" font-size="25" fill="#000000">0</text>
<line x1="1825.3" y1="353.18" x2="1836.7" y2="353.18" stroke="#000000" stroke-width="2"/>
<text x="1778.77" y="361.48" font-size="25" fill="#000000">200</text>
<line x1="1825.3" y1="284.25" x2="1836.7" y2="284.25" stroke="#000000" stroke-width="2"/>
<text x="1778.77" y="292.55" font-size="25" fill="#000000">400</text>
<line x1="1825.3" y1="215.32" x2="1836.7" y2="215.32" stroke="#000000" stroke-width="2"/>
<text x="1778.77" y="223.62" font-size="25" fill="#000000">600</text>
<line x1="1825.3" y1="146.4" x2="1836.7" y2="146.4" stroke="#000000" stroke-width="2"/>
<text x="1778.77" y="154.7" font-size="25" fill="#000000">800</text>
<line x1="1890.3" y1="422.1" x2="1890.3" y2="427.6" stroke="#000000" stroke-width="2"/>
<line x1="1967.9" y1="422.1" x2="1967.9" y2="427.6" stroke="#000000" stroke-width="2"/>
<text x="1869.13" y="455" font-size="25.3" fill="#4a6598" letter-spacing="-0.92">XGv</text>
<text x="1954.73" y="455" font-size="25.3" fill="#bf4650" letter-spacing="0.1">XG</text>
<line x1="1866" y1="419.5" x2="1912" y2="419.5" stroke="#4a6598" stroke-width="2"/>
<line x1="1881.8" y1="418.4" x2="1902" y2="418.4" stroke="#4a6598" stroke-width="1.8"/>
<polygon points="1868.6,412.8 1873.6,422.3 1863.6,422.3" fill="#4a6598"/>
<polygon points="1878.8,413.5 1883.8,423 1873.8,423" fill="#4a6598"/>
<polygon points="1889.4,417.5 1894.4,427 1884.4,427" fill="#4a6598"/>
<polygon points="1899.5,417.5 1904.5,427 1894.5,427" fill="#4a6598"/>
<polygon points="1910.2,417.5 1915.2,427 1905.2,427" fill="#4a6598"/>
<line x1="1945" y1="420" x2="1990" y2="420" stroke="#bf4650" stroke-width="2.5"/>
<polygon points="1943,416.5 1953,416.5 1948,426" fill="#bf4650"/>
<polygon points="1956.2,416.5 1966.2,416.5 1961.2,426" fill="#bf4650"/>
<polygon points="1969.3,416.5 1979.3,416.5 1974.3,426" fill="#bf4650"/>
<polygon points="1982.3,416.5 1992.3,416.5 1987.3,426" fill="#bf4650"/>
<text x="1415.1" y="560.2" font-size="25.6" fill="#0a0a0a" letter-spacing="0.16">RBD Class III</text>
<text x="1439.15" y="597.7" font-size="25.6" fill="#0a0a0a" letter-spacing="-0.12">p=0.0278</text>
<line x1="1438.7" y1="607.5" x2="1546.4" y2="607.5" stroke="#000000" stroke-width="2"/>
<text x="-0.05" y="0" font-size="25.6" fill="#0a0a0a" letter-spacing="-1.11" transform="translate(1332 805.5) rotate(-90)">ADE AUC</text>
<line x1="1398.3" y1="609.3" x2="1398.3" y2="883.8" stroke="#000000" stroke-width="2"/>
<line x1="1386.8" y1="882.8" x2="1582.2" y2="882.8" stroke="#000000" stroke-width="2"/>
<text x="1364.27" y="891.1" font-size="25" fill="#000000">0</text>
<line x1="1386.8" y1="814.42" x2="1398.3" y2="814.42" stroke="#000000" stroke-width="2"/>
<text x="1341.07" y="822.72" font-size="25" fill="#000000">200</text>
<line x1="1386.8" y1="746.05" x2="1398.3" y2="746.05" stroke="#000000" stroke-width="2"/>
<text x="1341.07" y="754.35" font-size="25" fill="#000000">400</text>
<line x1="1386.8" y1="677.67" x2="1398.3" y2="677.67" stroke="#000000" stroke-width="2"/>
<text x="1341.07" y="685.97" font-size="25" fill="#000000">600</text>
<line x1="1386.8" y1="609.3" x2="1398.3" y2="609.3" stroke="#000000" stroke-width="2"/>
<text x="1341.07" y="617.6" font-size="25" fill="#000000">800</text>
<line x1="1450.5" y1="882.8" x2="1450.5" y2="888.3" stroke="#000000" stroke-width="2"/>
<line x1="1529.1" y1="882.8" x2="1529.1" y2="888.3" stroke="#000000" stroke-width="2"/>
<text x="1425.93" y="912.4" font-size="25.3" fill="#4a6598" letter-spacing="-0.47">XGv</text>
<text x="1511.73" y="912.4" font-size="25.3" fill="#bf4650" letter-spacing="0.8">XG</text>
<line x1="1426.5" y1="883.5" x2="1474.6" y2="883.5" stroke="#4a6598" stroke-width="2.6"/>
<polygon points="1445,878.5 1450,888 1440,888" fill="#4a6598"/>
<polygon points="1455.5,878.5 1460.5,888 1450.5,888" fill="#4a6598"/>
<rect x="1503.3" y="818.2" width="51.5" height="64.6" fill="#bf4650"/>
<line x1="1529.1" y1="818.2" x2="1529.1" y2="731.6" stroke="#bf4650" stroke-width="1.8"/>
<line x1="1516" y1="731.6" x2="1541.8" y2="731.6" stroke="#bf4650" stroke-width="1.8"/>
<polygon points="1524,626.7 1534,626.7 1529,636.2" fill="#bf4650"/>
<polygon points="1528.2,808 1538.2,808 1533.2,817.5" fill="#bf4650"/>
<polygon points="1518.6,814 1528.6,814 1523.6,823.5" fill="#bf4650"/>
<polygon points="1518.6,877.5 1528.6,877.5 1523.6,887" fill="#bf4650"/>
<polygon points="1528,877.5 1538,877.5 1533,887" fill="#bf4650"/>
<text x="1676" y="560.2" font-size="25.6" fill="#0a0a0a" letter-spacing="0.06">RBD Class IV</text>
<text x="1740.8" y="598.5" font-size="25.6" fill="#0a0a0a" letter-spacing="0.29">ns</text>
<line x1="1701.4" y1="609.1" x2="1808.9" y2="609.1" stroke="#000000" stroke-width="2"/>
<text x="-0.05" y="0" font-size="25.6" fill="#0a0a0a" letter-spacing="-1.11" transform="translate(1593.6 791.2) rotate(-90)">ADE AUC</text>
<line x1="1660" y1="609.5" x2="1660" y2="884.2" stroke="#000000" stroke-width="2"/>
<line x1="1648.4" y1="883.2" x2="1843" y2="883.2" stroke="#000000" stroke-width="2"/>
<text x="1625.37" y="891.5" font-size="25" fill="#000000">0</text>
<line x1="1648.4" y1="814.78" x2="1660" y2="814.78" stroke="#000000" stroke-width="2"/>
<text x="1602.17" y="823.08" font-size="25" fill="#000000">200</text>
<line x1="1648.4" y1="746.35" x2="1660" y2="746.35" stroke="#000000" stroke-width="2"/>
<text x="1602.17" y="754.65" font-size="25" fill="#000000">400</text>
<line x1="1648.4" y1="677.92" x2="1660" y2="677.92" stroke="#000000" stroke-width="2"/>
<text x="1602.17" y="686.22" font-size="25" fill="#000000">600</text>
<line x1="1648.4" y1="609.5" x2="1660" y2="609.5" stroke="#000000" stroke-width="2"/>
<text x="1602.17" y="621.3" font-size="25" fill="#000000">800</text>
<line x1="1711.7" y1="883.2" x2="1711.7" y2="888.7" stroke="#000000" stroke-width="2"/>
<line x1="1789.9" y1="883.2" x2="1789.9" y2="888.7" stroke="#000000" stroke-width="2"/>
<text x="1691.73" y="912.4" font-size="25.3" fill="#4a6598" letter-spacing="-0.67">XGv</text>
<text x="1776.93" y="912.4" font-size="25.3" fill="#bf4650" letter-spacing="0.5">XG</text>
<line x1="1686" y1="880.5" x2="1737" y2="880.5" stroke="#4a6598" stroke-width="3"/>
<line x1="1699" y1="875.6" x2="1724.3" y2="875.6" stroke="#4a6598" stroke-width="1.8"/>
<polygon points="1711.7,868 1716.7,877.5 1706.7,877.5" fill="#4a6598"/>
<polygon points="1717.6,868 1722.6,877.5 1712.6,877.5" fill="#4a6598"/>
<polygon points="1689,879 1694,888.5 1684,888.5" fill="#4a6598"/>
<polygon points="1696,879 1701,888.5 1691,888.5" fill="#4a6598"/>
<polygon points="1703,879 1708,888.5 1698,888.5" fill="#4a6598"/>
<polygon points="1711,879 1716,888.5 1706,888.5" fill="#4a6598"/>
<polygon points="1721.5,879 1726.5,888.5 1716.5,888.5" fill="#4a6598"/>
<polygon points="1727,874 1732,883.5 1722,883.5" fill="#4a6598"/>
<polygon points="1732.5,879 1737.5,888.5 1727.5,888.5" fill="#4a6598"/>
<line x1="1764" y1="881" x2="1815.5" y2="881" stroke="#bf4650" stroke-width="2.2"/>
<line x1="1777.5" y1="878" x2="1802.5" y2="878" stroke="#bf4650" stroke-width="1.8"/>
<polygon points="1780,875.6 1790,875.6 1785,885.1" fill="#bf4650"/>
<polygon points="1789.4,878 1799.4,878 1794.4,887.5" fill="#bf4650"/>
<text x="1926.9" y="560.2" font-size="25.6" fill="#0a0a0a" letter-spacing="0.13">Multi–epitopes</text>
<text x="1999.9" y="599.7" font-size="25.6" fill="#0a0a0a" letter-spacing="-2.11">ns</text>
<line x1="1960.7" y1="609.8" x2="2054.8" y2="609.8" stroke="#000000" stroke-width="2"/>
<text x="-0.05" y="0" font-size="25.6" fill="#0a0a0a" letter-spacing="-1.11" transform="translate(1852.2 797.9) rotate(-90)">ADE AUC</text>
<line x1="1920.7" y1="610" x2="1920.7" y2="880" stroke="#000000" stroke-width="2"/>
<line x1="1909.6" y1="879" x2="2100.4" y2="879" stroke="#000000" stroke-width="2"/>
<text x="1887.87" y="887.3" font-size="25" fill="#000000">0</text>
<line x1="1909.6" y1="811.75" x2="1920.7" y2="811.75" stroke="#000000" stroke-width="2"/>
<text x="1864.67" y="820.05" font-size="25" fill="#000000">200</text>
<line x1="1909.6" y1="744.5" x2="1920.7" y2="744.5" stroke="#000000" stroke-width="2"/>
<text x="1864.67" y="752.8" font-size="25" fill="#000000">400</text>
<line x1="1909.6" y1="677.25" x2="1920.7" y2="677.25" stroke="#000000" stroke-width="2"/>
<text x="1864.67" y="685.55" font-size="25" fill="#000000">600</text>
<line x1="1909.6" y1="610" x2="1920.7" y2="610" stroke="#000000" stroke-width="2"/>
<text x="1864.67" y="618.3" font-size="25" fill="#000000">800</text>
<line x1="1971.5" y1="879" x2="1971.5" y2="884.5" stroke="#000000" stroke-width="2"/>
<line x1="2048" y1="879" x2="2048" y2="884.5" stroke="#000000" stroke-width="2"/>
<text x="1935.13" y="912.4" font-size="25.3" fill="#4a6598" letter-spacing="-0.62">XGv</text>
<text x="2036.83" y="912.4" font-size="25.3" fill="#bf4650" letter-spacing="0.7">XG</text>
<rect x="1946.2" y="873.9" width="50.7" height="5.1" fill="#4a6598"/>
<line x1="1971.5" y1="873.9" x2="1971.5" y2="868.8" stroke="#4a6598" stroke-width="1.8"/>
<line x1="1959.4" y1="868.8" x2="1984.2" y2="868.8" stroke="#4a6598" stroke-width="1.8"/>
<polygon points="1954.6,866.3 1959.6,875.8 1949.6,875.8" fill="#4a6598"/>
<polygon points="1971.5,868.8 1976.5,878.3 1966.5,878.3" fill="#4a6598"/>
<polygon points="1988.6,875 1993.6,884.5 1983.6,884.5" fill="#4a6598"/>
<rect x="2022.7" y="865.1" width="50.6" height="13.9" fill="#bf4650"/>
<line x1="2048" y1="865.1" x2="2048" y2="846" stroke="#bf4650" stroke-width="1.8"/>
<line x1="2035.4" y1="846" x2="2060.7" y2="846" stroke="#bf4650" stroke-width="1.8"/>
<polygon points="2043,847 2053,847 2048,856.5" fill="#bf4650"/>
<polygon points="2043,874 2053,874 2048,883.5" fill="#bf4650"/>
<text x="1417.3" y="1202" font-size="25.6" fill="#0a0a0a" letter-spacing="0.16">NTD Group I</text>
<text x="1472.9" y="1233.2" font-size="25.6" fill="#0a0a0a" letter-spacing="0.09">ns</text>
<line x1="1437" y1="1243.4" x2="1545" y2="1243.4" stroke="#000000" stroke-width="2"/>
<text x="-0.05" y="0" font-size="25.6" fill="#0a0a0a" letter-spacing="-1.11" transform="translate(1329.9 1438.2) rotate(-90)">ADE AUC</text>
<line x1="1400.8" y1="1252.7" x2="1400.8" y2="1522.8" stroke="#000000" stroke-width="2"/>
<line x1="1389.4" y1="1521.8" x2="1584.4" y2="1521.8" stroke="#000000" stroke-width="2"/>
<text x="1366.77" y="1530.1" font-size="25" fill="#000000">0</text>
<line x1="1389.4" y1="1454.53" x2="1400.8" y2="1454.53" stroke="#000000" stroke-width="2"/>
<text x="1343.57" y="1462.83" font-size="25" fill="#000000">200</text>
<line x1="1389.4" y1="1387.25" x2="1400.8" y2="1387.25" stroke="#000000" stroke-width="2"/>
<text x="1343.57" y="1395.55" font-size="25" fill="#000000">400</text>
<line x1="1389.4" y1="1319.97" x2="1400.8" y2="1319.97" stroke="#000000" stroke-width="2"/>
<text x="1343.57" y="1328.27" font-size="25" fill="#000000">600</text>
<line x1="1389.4" y1="1252.7" x2="1400.8" y2="1252.7" stroke="#000000" stroke-width="2"/>
<text x="1343.57" y="1261" font-size="25" fill="#000000">800</text>
<line x1="1452.7" y1="1521.8" x2="1452.7" y2="1527.3" stroke="#000000" stroke-width="2"/>
<line x1="1530.8" y1="1521.8" x2="1530.8" y2="1527.3" stroke="#000000" stroke-width="2"/>
<text x="1428.93" y="1549.3" font-size="25.3" fill="#4a6598" letter-spacing="-0.87">XGv</text>
<text x="1514.03" y="1549.3" font-size="25.3" fill="#bf4650" letter-spacing="0.2">XG</text>
<line x1="1428" y1="1522" x2="1478" y2="1522" stroke="#4a6598" stroke-width="3"/>
<polygon points="1430,1517.5 1435,1527 1425,1527" fill="#4a6598"/>
<polygon points="1437,1517.5 1442,1527 1432,1527" fill="#4a6598"/>
<polygon points="1444,1517.5 1449,1527 1439,1527" fill="#4a6598"/>
<polygon points="1449,1517.5 1454,1527 1444,1527" fill="#4a6598"/>
<polygon points="1455,1514 1460,1523.5 1450,1523.5" fill="#4a6598"/>
<polygon points="1461,1517.5 1466,1527 1456,1527" fill="#4a6598"/>
<polygon points="1467,1514.5 1472,1524 1462,1524" fill="#4a6598"/>
<polygon points="1474,1517.5 1479,1527 1469,1527" fill="#4a6598"/>
<line x1="1505" y1="1523" x2="1552" y2="1523" stroke="#bf4650" stroke-width="2.5"/>
<polygon points="1505,1517 1515,1517 1510,1526.5" fill="#bf4650"/>
<polygon points="1516,1517 1526,1517 1521,1526.5" fill="#bf4650"/>
<polygon points="1526,1517 1536,1517 1531,1526.5" fill="#bf4650"/>
<polygon points="1536,1517 1546,1517 1541,1526.5" fill="#bf4650"/>
<polygon points="1558,1517 1568,1517 1563,1526.5" fill="#bf4650"/>
<text x="1669.9" y="1201.7" font-size="25.6" fill="#0a0a0a" letter-spacing="0.19">NTD Group II</text>
<text x="1728.6" y="1233.1" font-size="25.6" fill="#0a0a0a" letter-spacing="-0.01">ns</text>
<line x1="1692.8" y1="1243.2" x2="1800.8" y2="1243.2" stroke="#000000" stroke-width="2"/>
<text x="-0.05" y="0" font-size="25.6" fill="#0a0a0a" letter-spacing="-1.11" transform="translate(1592.7 1438.2) rotate(-90)">ADE AUC</text>
<line x1="1662.7" y1="1252" x2="1662.7" y2="1523.1" stroke="#000000" stroke-width="2"/>
<line x1="1651.8" y1="1522.1" x2="1844.7" y2="1522.1" stroke="#000000" stroke-width="2"/>
<text x="1629.17" y="1530.4" font-size="25" fill="#000000">0</text>
<line x1="1651.8" y1="1454.57" x2="1662.7" y2="1454.57" stroke="#000000" stroke-width="2"/>
<text x="1605.97" y="1462.87" font-size="25" fill="#000000">200</text>
<line x1="1651.8" y1="1387.05" x2="1662.7" y2="1387.05" stroke="#000000" stroke-width="2"/>
<text x="1605.97" y="1395.35" font-size="25" fill="#000000">400</text>
<line x1="1651.8" y1="1319.53" x2="1662.7" y2="1319.53" stroke="#000000" stroke-width="2"/>
<text x="1605.97" y="1327.83" font-size="25" fill="#000000">600</text>
<line x1="1651.8" y1="1252" x2="1662.7" y2="1252" stroke="#000000" stroke-width="2"/>
<text x="1605.97" y="1260.3" font-size="25" fill="#000000">800</text>
<line x1="1714.2" y1="1522.1" x2="1714.2" y2="1527.6" stroke="#000000" stroke-width="2"/>
<line x1="1791.9" y1="1522.1" x2="1791.9" y2="1527.6" stroke="#000000" stroke-width="2"/>
<text x="1688.83" y="1549.3" font-size="25.3" fill="#4a6598" letter-spacing="-0.87">XGv</text>
<text x="1773.93" y="1549.3" font-size="25.3" fill="#bf4650" letter-spacing="0.5">XG</text>
<line x1="1689" y1="1522.5" x2="1739" y2="1522.5" stroke="#4a6598" stroke-width="3"/>
<polygon points="1692,1518.4 1697,1527.9 1687,1527.9" fill="#4a6598"/>
<polygon points="1699,1518.4 1704,1527.9 1694,1527.9" fill="#4a6598"/>
<polygon points="1706,1518.4 1711,1527.9 1701,1527.9" fill="#4a6598"/>
<polygon points="1712,1518.4 1717,1527.9 1707,1527.9" fill="#4a6598"/>
<polygon points="1717,1514.5 1722,1524 1712,1524" fill="#4a6598"/>
<polygon points="1723,1518.4 1728,1527.9 1718,1527.9" fill="#4a6598"/>
<polygon points="1729,1517 1734,1526.5 1724,1526.5" fill="#4a6598"/>
<polygon points="1735,1518.4 1740,1527.9 1730,1527.9" fill="#4a6598"/>
<rect x="1764.4" y="1496.1" width="55.3" height="26" fill="#bf4650"/>
<polygon points="1786.9,1492.2 1796.9,1492.2 1791.9,1501.7" fill="#bf4650"/>
<text x="1924.4" y="1201.7" font-size="25.6" fill="#0a0a0a" letter-spacing="0.1">NTD Group III</text>
<text x="1986.4" y="1233.1" font-size="25.6" fill="#0a0a0a" letter-spacing="0.09">ns</text>
<line x1="1950.6" y1="1243.2" x2="2058.7" y2="1243.2" stroke="#000000" stroke-width="2"/>
<text x="-0.05" y="0" font-size="25.6" fill="#0a0a0a" letter-spacing="-1.11" transform="translate(1863.1 1442.4) rotate(-90)">ADE AUC</text>
<line x1="1918" y1="1253.7" x2="1918" y2="1521.9" stroke="#000000" stroke-width="2"/>
<line x1="1910.4" y1="1520.9" x2="2088.9" y2="1520.9" stroke="#000000" stroke-width="2"/>
<text x="1889.17" y="1529.2" font-size="25" fill="#000000">0</text>
<line x1="1910.4" y1="1454.1" x2="1918" y2="1454.1" stroke="#000000" stroke-width="2"/>
<text x="1865.97" y="1462.4" font-size="25" fill="#000000">200</text>
<line x1="1910.4" y1="1387.3" x2="1918" y2="1387.3" stroke="#000000" stroke-width="2"/>
<text x="1865.97" y="1395.6" font-size="25" fill="#000000">400</text>
<line x1="1910.4" y1="1320.5" x2="1918" y2="1320.5" stroke="#000000" stroke-width="2"/>
<text x="1865.97" y="1328.8" font-size="25" fill="#000000">600</text>
<line x1="1910.4" y1="1253.7" x2="1918" y2="1253.7" stroke="#000000" stroke-width="2"/>
<text x="1865.97" y="1262" font-size="25" fill="#000000">800</text>
<line x1="1959.4" y1="1520.9" x2="1959.4" y2="1526.4" stroke="#000000" stroke-width="2"/>
<line x1="2045.5" y1="1520.9" x2="2045.5" y2="1526.4" stroke="#000000" stroke-width="2"/>
<text x="1938.23" y="1549.6" font-size="25.3" fill="#4a6598" letter-spacing="-0.92">XGv</text>
<text x="2023.43" y="1549.6" font-size="25.3" fill="#bf4650" letter-spacing="0.9">XG</text>
<line x1="1940.5" y1="1517" x2="1980.5" y2="1517" stroke="#4a6598" stroke-width="2"/>
<rect x="1955.8" y="1515.9" width="9.6" height="9.6" fill="#4a6598"/>
<line x1="2024.4" y1="1519.7" x2="2054.8" y2="1519.7" stroke="#bf4650" stroke-width="2.2"/>
<polygon points="2022.8,1510 2032.8,1510 2027.8,1519.5" fill="#bf4650"/>
<polygon points="2033.7,1514.5 2043.7,1514.5 2038.7,1524" fill="#bf4650"/>
<polygon points="2040.5,1514.5 2050.5,1514.5 2045.5,1524" fill="#bf4650"/>
<polygon points="2047.2,1514.5 2057.2,1514.5 2052.2,1524" fill="#bf4650"/>
<polygon points="2055.7,1516.5 2065.7,1516.5 2060.7,1526" fill="#bf4650"/>
<text x="1384.04" y="1864.7" font-size="25.6" fill="#231815" letter-spacing="-0.28">S–not RBD/NTD–binding</text>
<text x="1508.3" y="1898.1" font-size="25.6" fill="#0a0a0a" letter-spacing="-0.11">ns</text>
<line x1="1473" y1="1908.5" x2="1580.3" y2="1908.5" stroke="#000000" stroke-width="2"/>
<text x="-0.05" y="0" font-size="25.6" fill="#0a0a0a" letter-spacing="-1.11" transform="translate(1353.5 2095.4) rotate(-90)">ADE AUC</text>
<line x1="1422" y1="1905" x2="1422" y2="2178" stroke="#000000" stroke-width="2"/>
<line x1="1411" y1="2177" x2="1645.5" y2="2177" stroke="#000000" stroke-width="2"/>
<text x="1389.57" y="2185.3" font-size="25" fill="#000000">0</text>
<line x1="1411" y1="2109" x2="1422" y2="2109" stroke="#000000" stroke-width="2"/>
<text x="1366.37" y="2117.3" font-size="25" fill="#000000">200</text>
<line x1="1411" y1="2041" x2="1422" y2="2041" stroke="#000000" stroke-width="2"/>
<text x="1366.37" y="2049.3" font-size="25" fill="#000000">400</text>
<line x1="1411" y1="1973" x2="1422" y2="1973" stroke="#000000" stroke-width="2"/>
<text x="1366.37" y="1981.3" font-size="25" fill="#000000">600</text>
<line x1="1411" y1="1905" x2="1422" y2="1905" stroke="#000000" stroke-width="2"/>
<text x="1366.37" y="1913.3" font-size="25" fill="#000000">800</text>
<line x1="1484.9" y1="2177" x2="1484.9" y2="2188.5" stroke="#000000" stroke-width="2"/>
<line x1="1580.5" y1="2177" x2="1580.5" y2="2188.5" stroke="#000000" stroke-width="2"/>
<text x="1458.43" y="2207.4" font-size="25.3" fill="#4a6598" letter-spacing="-0.77">XGv</text>
<text x="1560.53" y="2207.4" font-size="25.3" fill="#bf4650" letter-spacing="0.2">XG</text>
<line x1="1454.2" y1="2175" x2="1502.6" y2="2175" stroke="#4a6598" stroke-width="2.2"/>
<line x1="1469" y1="2173.5" x2="1502" y2="2173.5" stroke="#4a6598" stroke-width="3.5"/>
<polygon points="1455.4,2165.2 1465.4,2165.2 1460.4,2174.7" fill="#4a6598"/>
<polygon points="1468,2168 1478,2168 1473,2177.5" fill="#4a6598"/>
<polygon points="1479.9,2170 1489.9,2170 1484.9,2179.5" fill="#4a6598"/>
<polygon points="1493.4,2170 1503.4,2170 1498.4,2179.5" fill="#4a6598"/>
<polygon points="1506,2171 1516,2171 1511,2180.5" fill="#4a6598"/>
<rect x="1549.9" y="2169.2" width="62.4" height="7.8" fill="#bf4650"/>
<line x1="1580.5" y1="2169.2" x2="1580.5" y2="2151.7" stroke="#bf4650" stroke-width="1.8"/>
<line x1="1565.9" y1="2151.7" x2="1596" y2="2151.7" stroke="#bf4650" stroke-width="1.8"/>
<polygon points="1575.5,2108.7 1585.5,2108.7 1580.5,2118.2" fill="#bf4650"/>
<polygon points="1573.6,2157 1583.6,2157 1578.6,2166.5" fill="#bf4650"/>
<polygon points="1563.7,2162 1573.7,2162 1568.7,2171.5" fill="#bf4650"/>
<polygon points="1585,2162 1595,2162 1590,2171.5" fill="#bf4650"/>
<polygon points="1551,2170 1561,2170 1556,2179.5" fill="#bf4650"/>
<polygon points="1559,2172 1569,2172 1564,2181.5" fill="#bf4650"/>
<polygon points="1592,2172 1602,2172 1597,2181.5" fill="#bf4650"/>
<polygon points="1601,2172 1611,2172 1606,2181.5" fill="#bf4650"/>
<polygon points="1581,2160 1591,2160 1586,2169.5" fill="#bf4650"/>
<polygon points="1587,2164 1597,2164 1592,2173.5" fill="#bf4650"/>
<polygon points="1569,2163 1579,2163 1574,2172.5" fill="#bf4650"/>
</svg>
</body></html>
